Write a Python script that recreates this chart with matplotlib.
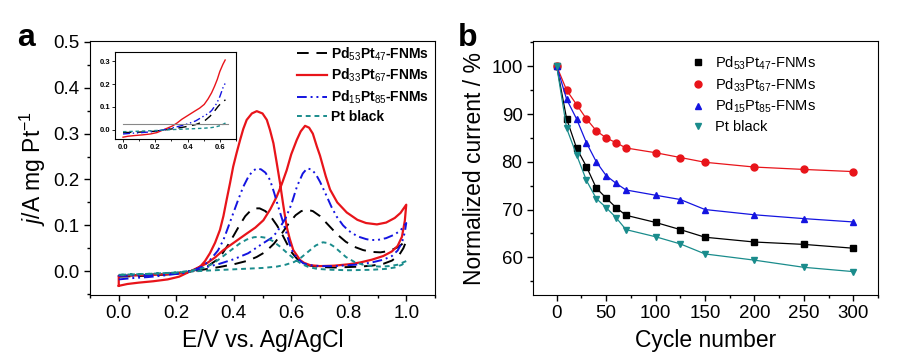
import matplotlib
matplotlib.use('Agg')
import matplotlib.pyplot as plt
import numpy as np
from matplotlib.ticker import MultipleLocator

plt.rcParams['font.family'] = ['Liberation Sans', 'DejaVu Sans']
plt.rcParams['mathtext.fontset'] = 'custom'
plt.rcParams['mathtext.rm'] = 'Liberation Sans'
plt.rcParams['mathtext.it'] = 'Liberation Sans:italic'
plt.rcParams['mathtext.bf'] = 'Liberation Sans:bold'

# ---- panel a: cyclic voltammograms (forward and backward scans) ----
red_fx = [0.00, 0.03, 0.07, 0.12, 0.17, 0.21, 0.24, 0.27, 0.306, 0.335, 0.364, 0.40, 0.445, 0.475, 0.503, 0.527, 0.549, 0.567, 0.584, 0.60, 0.619, 0.633, 0.648, 0.662, 0.675, 0.689, 0.70, 0.72, 0.735, 0.76, 0.793, 0.83, 0.86, 0.898, 0.93, 0.96, 0.98, 1.00]
red_fy = [-0.032, -0.028, -0.025, -0.022, -0.018, -0.012, -0.003, 0.006, 0.017, 0.030, 0.046, 0.062, 0.082, 0.095, 0.111, 0.135, 0.162, 0.190, 0.220, 0.255, 0.286, 0.305, 0.317, 0.313, 0.300, 0.272, 0.252, 0.207, 0.178, 0.150, 0.128, 0.112, 0.105, 0.102, 0.106, 0.116, 0.127, 0.145]
red_bx = [1.00, 0.995, 0.985, 0.97, 0.95, 0.92, 0.88, 0.84, 0.80, 0.75, 0.70, 0.666, 0.645, 0.631, 0.607, 0.595, 0.584, 0.572, 0.561, 0.549, 0.538, 0.526, 0.515, 0.50, 0.48, 0.463, 0.445, 0.433, 0.422, 0.41, 0.398, 0.387, 0.375, 0.364, 0.352, 0.335, 0.317, 0.30, 0.282, 0.265, 0.247, 0.22, 0.18, 0.12, 0.06, 0.00, 0.00]
red_by = [0.145, 0.110, 0.075, 0.055, 0.043, 0.033, 0.025, 0.019, 0.015, 0.012, 0.011, 0.013, 0.018, 0.024, 0.046, 0.070, 0.097, 0.145, 0.192, 0.238, 0.279, 0.308, 0.330, 0.344, 0.349, 0.344, 0.330, 0.310, 0.286, 0.258, 0.228, 0.192, 0.155, 0.120, 0.090, 0.062, 0.039, 0.022, 0.009, 0.003, -0.001, -0.004, -0.006, -0.008, -0.009, -0.010, -0.032]

blue_fx = [0.00, 0.05, 0.10, 0.15, 0.20, 0.25, 0.30, 0.35, 0.40, 0.45, 0.50, 0.53, 0.55, 0.58, 0.60, 0.62, 0.64, 0.655, 0.67, 0.685, 0.70, 0.72, 0.74, 0.758, 0.78, 0.80, 0.83, 0.86, 0.875, 0.90, 0.93, 0.96, 0.98, 1.00]
blue_fy = [-0.018, -0.015, -0.013, -0.010, -0.006, 0.000, 0.008, 0.016, 0.026, 0.039, 0.060, 0.072, 0.085, 0.115, 0.145, 0.185, 0.213, 0.224, 0.222, 0.212, 0.195, 0.168, 0.140, 0.119, 0.100, 0.088, 0.076, 0.070, 0.068, 0.068, 0.072, 0.080, 0.089, 0.105]
blue_bx = [1.00, 0.995, 0.985, 0.97, 0.95, 0.92, 0.88, 0.84, 0.80, 0.75, 0.70, 0.666, 0.642, 0.625, 0.607, 0.595, 0.584, 0.57, 0.555, 0.54, 0.526, 0.51, 0.495, 0.48, 0.465, 0.45, 0.433, 0.415, 0.398, 0.38, 0.364, 0.345, 0.317, 0.29, 0.26, 0.22, 0.15, 0.08, 0.00, 0.00]
blue_by = [0.105, 0.085, 0.062, 0.045, 0.033, 0.025, 0.019, 0.015, 0.013, 0.011, 0.011, 0.013, 0.017, 0.026, 0.039, 0.058, 0.082, 0.110, 0.140, 0.172, 0.199, 0.215, 0.222, 0.224, 0.218, 0.205, 0.184, 0.155, 0.126, 0.095, 0.068, 0.045, 0.024, 0.010, 0.002, -0.004, -0.007, -0.009, -0.010, -0.018]

black_fx = [0.00, 0.10, 0.20, 0.25, 0.30, 0.35, 0.40, 0.45, 0.48, 0.51, 0.54, 0.567, 0.59, 0.615, 0.635, 0.655, 0.675, 0.70, 0.73, 0.76, 0.79, 0.82, 0.85, 0.88, 0.91, 0.94, 0.97, 1.00]
black_fy = [-0.012, -0.010, -0.006, -0.001, 0.004, 0.009, 0.015, 0.023, 0.031, 0.042, 0.060, 0.082, 0.103, 0.122, 0.131, 0.134, 0.131, 0.120, 0.100, 0.080, 0.064, 0.053, 0.046, 0.042, 0.041, 0.044, 0.052, 0.066]
black_bx = [1.00, 0.99, 0.975, 0.95, 0.92, 0.88, 0.84, 0.80, 0.75, 0.70, 0.665, 0.64, 0.62, 0.60, 0.585, 0.567, 0.55, 0.53, 0.51, 0.49, 0.475, 0.46, 0.44, 0.42, 0.40, 0.38, 0.36, 0.34, 0.31, 0.28, 0.25, 0.20, 0.10, 0.00, 0.00]
black_by = [0.066, 0.050, 0.035, 0.023, 0.016, 0.012, 0.010, 0.009, 0.008, 0.009, 0.012, 0.018, 0.027, 0.042, 0.060, 0.082, 0.100, 0.118, 0.131, 0.137, 0.137, 0.133, 0.120, 0.100, 0.078, 0.057, 0.038, 0.024, 0.011, 0.004, 0.000, -0.004, -0.008, -0.010, -0.012]

teal_fx = [0.00, 0.10, 0.20, 0.25, 0.30, 0.40, 0.50, 0.55, 0.58, 0.61, 0.635, 0.66, 0.685, 0.71, 0.73, 0.75, 0.77, 0.79, 0.82, 0.85, 0.88, 0.91, 0.94, 0.97, 1.00]
teal_fy = [-0.008, -0.006, -0.003, -0.001, 0.001, 0.004, 0.007, 0.010, 0.014, 0.020, 0.030, 0.043, 0.056, 0.063, 0.061, 0.053, 0.042, 0.031, 0.020, 0.014, 0.011, 0.010, 0.011, 0.014, 0.022]
teal_bx = [1.00, 0.985, 0.96, 0.93, 0.88, 0.80, 0.74, 0.69, 0.66, 0.635, 0.61, 0.585, 0.56, 0.535, 0.51, 0.49, 0.47, 0.445, 0.42, 0.395, 0.37, 0.345, 0.32, 0.29, 0.25, 0.20, 0.10, 0.00]
teal_by = [0.022, 0.014, 0.008, 0.005, 0.003, 0.002, 0.003, 0.005, 0.009, 0.016, 0.027, 0.040, 0.054, 0.066, 0.073, 0.075, 0.074, 0.069, 0.060, 0.048, 0.036, 0.024, 0.014, 0.006, 0.001, -0.003, -0.006, -0.008]

inset_baseline = 0.025
inset_xmax = 0.64

# ---- panel b: stability ----
cycles = [0, 10, 20, 30, 40, 50, 60, 70, 100, 125, 150, 200, 250, 300]
norm_black = [100, 89.0, 82.9, 79.0, 74.5, 72.4, 70.4, 68.8, 67.3, 65.8, 64.2, 63.2, 62.7, 61.9]
norm_red = [100, 95.0, 92.0, 89.0, 86.5, 85.0, 84.0, 82.9, 81.9, 80.9, 79.9, 78.9, 78.4, 77.95]
norm_blue = [100, 93.1, 89.0, 84.0, 80.0, 77.1, 75.5, 74.1, 73.0, 72.1, 70.0, 68.9, 68.1, 67.4]
norm_teal = [100, 87.0, 81.5, 76.1, 72.3, 70.4, 68.3, 65.8, 64.3, 62.8, 60.7, 59.4, 57.9, 57.0]

labels = [r'Pd$_{53}$Pt$_{47}$-FNMs', r'Pd$_{33}$Pt$_{67}$-FNMs', r'Pd$_{15}$Pt$_{85}$-FNMs', 'Pt black']
c_black, c_red, c_blue, c_teal = 'black', '#e8141a', '#1414e0', '#1a8c8c'

fig = plt.figure(figsize=(9.01, 3.53), dpi=100)
ax1 = fig.add_axes([0.0999, 0.1643, 0.3829, 0.7195])
ax2 = fig.add_axes([0.5916, 0.1643, 0.3829, 0.7195])

styles = [
    (black_fx, black_fy, black_bx, black_by, c_black, (0, (6, 4)), 1.4),
    (red_fx, red_fy, red_bx, red_by, c_red, '-', 1.6),
    (blue_fx, blue_fy, blue_bx, blue_by, c_blue, (0, (5, 2, 1, 2, 1, 2)), 1.4),
    (teal_fx, teal_fy, teal_bx, teal_by, c_teal, (0, (2.5, 2)), 1.4),
]
for (fx, fy, bx, by, col, ls, lw), lab in zip(styles, labels):
    ax1.plot(fx + bx, fy + by, color=col, ls=ls, lw=lw, label=lab)

ax1.set_xlim(-0.1, 1.1)
ax1.set_ylim(-0.052, 0.502)
ax1.xaxis.set_major_locator(MultipleLocator(0.2))
ax1.xaxis.set_minor_locator(MultipleLocator(0.1))
ax1.yaxis.set_major_locator(MultipleLocator(0.1))
ax1.yaxis.set_minor_locator(MultipleLocator(0.05))
ax1.tick_params(labelsize=13.5, direction='out', length=4, width=1)
ax1.tick_params(which='minor', direction='out', length=2.5, width=1)
ax1.set_xlabel('E/V vs. Ag/AgCl', fontsize=16.5, labelpad=5)
ax1.set_ylabel(r'$j$/A mg Pt$^{-1}$', fontsize=16.5, labelpad=4)
ax1.legend(loc='upper right', frameon=False, handlelength=2.2,
           handletextpad=0.3, labelspacing=0.3, borderaxespad=0.0,
           bbox_to_anchor=(1.0, 1.005), prop={'weight': 'bold', 'size': 10})
ax1.text(-0.16, 1.01, 'a', transform=ax1.transAxes, fontsize=23, fontweight='bold',
         ha='right', va='center')

# inset: onset region of the forward scan
axin = fig.add_axes([0.1276, 0.6062, 0.1343, 0.2465])
for (fx, fy, bx, by, col, ls, lw) in styles:
    fx_a = np.array(fx)
    m = fx_a <= inset_xmax
    axin.plot(fx_a[m], np.array(fy)[m], color=col, ls=ls, lw=1.0)
axin.plot([0.0, 0.65], [inset_baseline, inset_baseline], color='#888888', lw=0.8)
axin.set_xlim(-0.05, 0.7)
axin.set_ylim(-0.04, 0.34)
axin.xaxis.set_major_locator(MultipleLocator(0.2))
axin.xaxis.set_minor_locator(MultipleLocator(0.1))
axin.yaxis.set_major_locator(MultipleLocator(0.1))
axin.tick_params(labelsize=5.5, length=2, width=0.6, pad=1.5)
axin.tick_params(which='minor', length=1.2, width=0.6)
for t in axin.get_xticklabels() + axin.get_yticklabels():
    t.set_fontweight('bold')
for s in axin.spines.values():
    s.set_linewidth(0.8)

# panel b
markers = ['s', 'o', '^', 'v']
for vals, col, mk, lab in zip([norm_black, norm_red, norm_blue, norm_teal],
                              [c_black, c_red, c_blue, c_teal], markers, labels):
    ax2.plot(cycles, vals, color=col, marker=mk, ms=5, lw=0.9, label=lab)
ax2.set_xlim(-24, 325)
ax2.set_ylim(52.1, 105.3)
ax2.xaxis.set_major_locator(MultipleLocator(50))
ax2.xaxis.set_minor_locator(MultipleLocator(25))
ax2.yaxis.set_major_locator(MultipleLocator(10))
ax2.yaxis.set_minor_locator(MultipleLocator(5))
ax2.tick_params(labelsize=13.5, direction='out', length=4, width=1)
ax2.tick_params(which='minor', direction='out', length=2.5, width=1)
ax2.set_xlabel('Cycle number', fontsize=16.5, labelpad=5)
ax2.set_ylabel('Normalized current / %', fontsize=16.5, labelpad=4)
leg2 = ax2.legend(loc='upper left', frameon=False, fontsize=10.5, handlelength=1.0,
                  handletextpad=0.7, labelspacing=0.3, borderaxespad=0.0,
                  bbox_to_anchor=(0.44, 0.97))
for h in leg2.legend_handles:
    h.set_linestyle('none')
ax2.text(-0.162, 1.01, 'b', transform=ax2.transAxes, fontsize=23, fontweight='bold',
         ha='right', va='center')

fig.savefig('out.png', dpi=100)
